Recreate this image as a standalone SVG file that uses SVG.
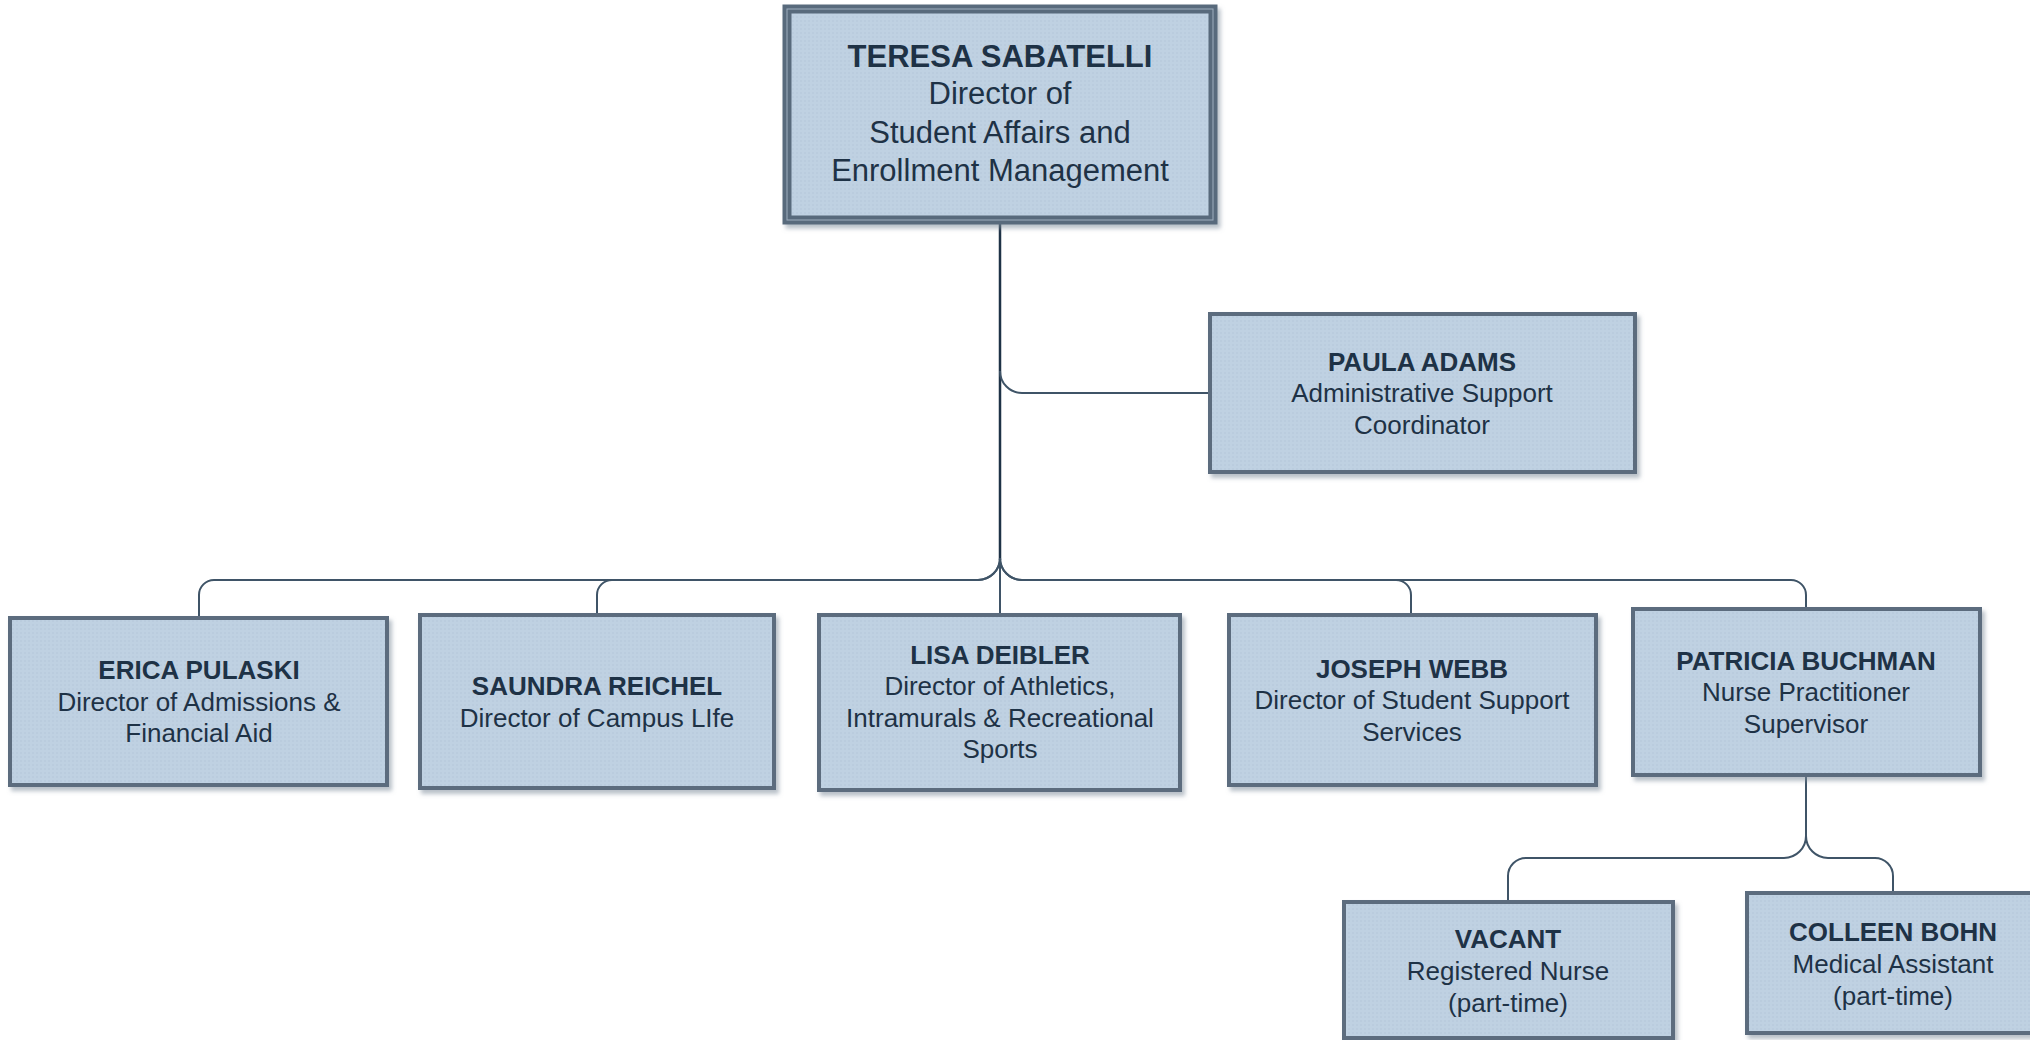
<svg xmlns="http://www.w3.org/2000/svg" width="2030" height="1040" viewBox="0 0 2030 1040">
<style>
.box{fill:url(#dots);stroke:#5b6c7e;stroke-width:4;filter:url(#sh)}
.top{fill:url(#dots);stroke:#596a7c;stroke-width:9;filter:url(#sh)}
.inner{fill:none;stroke:#9eaebe;stroke-width:1}
.t{font-family:"Liberation Sans",Arial,sans-serif;font-size:26px;fill:#1e3246;text-anchor:middle}
.n{font-weight:bold}
.big{font-size:31px}
.c{fill:none;stroke:#3f5467;stroke-width:2}
.trunk{fill:none;stroke:#1e3246;stroke-width:2.5}
</style>
<defs>
<pattern id="dots" width="4" height="4" patternUnits="userSpaceOnUse">
<rect width="4" height="4" fill="#bfd1e2"/>
<circle cx="1" cy="1" r="0.7" fill="#b1c5d8"/>
</pattern>
<filter id="sh" x="-5%" y="-5%" width="115%" height="120%">
<feDropShadow dx="3" dy="4" stdDeviation="2" flood-color="#7d8c9b" flood-opacity="0.55"/>
</filter>
</defs>
<rect width="2030" height="1040" fill="#ffffff"/>
<g id="connectors">
<path class="trunk" d="M1000,220 V560"/>
<path class="c" d="M1000,560 V615"/>
<path class="c" d="M1000,371 A22,22 0 0 0 1022,393 H1210"/>
<path class="c" d="M1000,558 A22,22 0 0 1 978,580 H214 A15,15 0 0 0 199,595 V618"/>
<path class="c" d="M1000,558 A22,22 0 0 1 978,580 H612 A15,15 0 0 0 597,595 V615"/>
<path class="c" d="M1000,558 A22,22 0 0 0 1022,580 H1396 A15,15 0 0 1 1411,595 V615"/>
<path class="c" d="M1000,558 A22,22 0 0 0 1022,580 H1791 A15,15 0 0 1 1806,595 V609"/>
<path class="c" d="M1806,775 V836 A22,22 0 0 1 1784,858 H1526 A18,18 0 0 0 1508,876 V902"/>
<path class="c" d="M1806,836 A22,22 0 0 0 1828,858 H1875 A18,18 0 0 1 1893,876 V893"/>
</g>
<g id="teresa">
<rect class="top" x="787" y="9" width="426" height="211"/>
<rect class="inner" x="787" y="9" width="426" height="211"/>
<text class="t big n" x="1000" y="67">TERESA SABATELLI</text>
<text class="t big" x="1000" y="104">Director of</text>
<text class="t big" x="1000" y="143">Student Affairs and</text>
<text class="t big" x="1000" y="181">Enrollment Management</text>
</g>
<g id="paula">
<rect class="box" x="1210" y="314" width="425" height="158"/>
<text class="t n" x="1422" y="371">PAULA ADAMS</text>
<text class="t" x="1422" y="402">Administrative Support</text>
<text class="t" x="1422" y="434">Coordinator</text>
</g>
<g id="erica">
<rect class="box" x="10" y="618" width="377" height="167"/>
<text class="t n" x="199" y="679">ERICA PULASKI</text>
<text class="t" x="199" y="711">Director of Admissions &amp;</text>
<text class="t" x="199" y="742">Financial Aid</text>
</g>
<g id="saundra">
<rect class="box" x="420" y="615" width="354" height="173"/>
<text class="t n" x="597" y="695">SAUNDRA REICHEL</text>
<text class="t" x="597" y="727">Director of Campus LIfe</text>
</g>
<g id="lisa">
<rect class="box" x="819" y="615" width="361" height="175"/>
<text class="t n" x="1000" y="664">LISA DEIBLER</text>
<text class="t" x="1000" y="695">Director of Athletics,</text>
<text class="t" x="1000" y="727">Intramurals &amp; Recreational</text>
<text class="t" x="1000" y="758">Sports</text>
</g>
<g id="joseph">
<rect class="box" x="1229" y="615" width="367" height="170"/>
<text class="t n" x="1412" y="678">JOSEPH WEBB</text>
<text class="t" x="1412" y="709">Director of Student Support</text>
<text class="t" x="1412" y="741">Services</text>
</g>
<g id="patricia">
<rect class="box" x="1633" y="609" width="347" height="166"/>
<text class="t n" x="1806" y="670">PATRICIA BUCHMAN</text>
<text class="t" x="1806" y="701">Nurse Practitioner</text>
<text class="t" x="1806" y="733">Supervisor</text>
</g>
<g id="vacant">
<rect class="box" x="1344" y="902" width="329" height="136"/>
<text class="t n" x="1508" y="948">VACANT</text>
<text class="t" x="1508" y="980">Registered Nurse</text>
<text class="t" x="1508" y="1012">(part-time)</text>
</g>
<g id="colleen">
<rect class="box" x="1747" y="893" width="294" height="140"/>
<text class="t n" x="1893" y="941">COLLEEN BOHN</text>
<text class="t" x="1893" y="973">Medical Assistant</text>
<text class="t" x="1893" y="1005">(part-time)</text>
</g>
</svg>
